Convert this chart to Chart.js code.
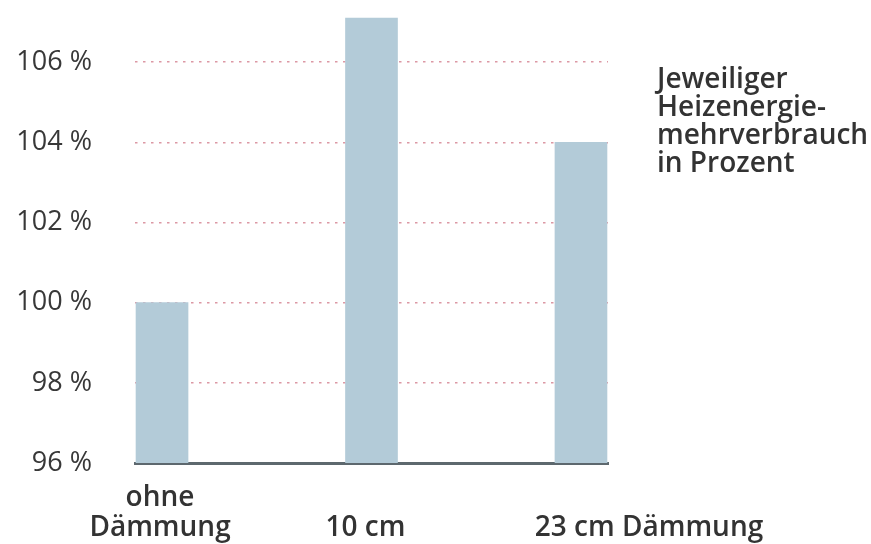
<!DOCTYPE html>
<html>
<head>
<meta charset="utf-8">
<script src="https://cdn.jsdelivr.net/npm/chart.js@4"></script>
<style>
  html, body { margin: 0; padding: 0; background: #fff; }
  #wrap { width: 871px; height: 544px; }
</style>
</head>
<body>
<div id="wrap"><canvas id="chart"></canvas></div>
<script>
// Data
const categories = [["ohne", "Dämmung"], ["10 cm"], ["23 cm Dämmung"]];
const values = [100, 107.1, 104];
const yTicks = [96, 98, 100, 102, 104, 106];
const noteLines = ["Jeweiliger", "Heizenergie-", "mehrverbrauch", "in Prozent"];

// label nudges relative to each bar (the labels are not centred in the original)
const labelShift = [-2, -6, 68];

const FONT = "'Open Sans', 'Noto Sans', sans-serif";

// category labels under the axis + note text at the right
const textPlugin = {
    id: "texts",
    afterDraw(chart) {
        const ctx = chart.ctx;
        const x = chart.scales.x;
        const area = chart.chartArea;
        ctx.save();
        ctx.fillStyle = "#333";
        ctx.font = "600 28px " + FONT;
        ctx.textAlign = "center";
        ctx.textBaseline = "alphabetic";
        categories.forEach((lines, i) => {
            const cx = x.getPixelForValue(i) + labelShift[i];
            lines.forEach((t, j) => {
                ctx.fillText(t, cx, area.bottom + 73 - (lines.length - 1 - j) * 30);
            });
        });
        ctx.textAlign = "left";
        noteLines.forEach((t, j) => {
            ctx.fillText(t, area.right + 49, 88 + j * 28);
        });
        ctx.restore();
    },
};

new Chart(document.getElementById("chart"), {
    type: "bar",
    data: {
        datasets: [
            {
                data: values.map((v, i) => ({ x: i, y: v })),
                backgroundColor: "#b3cbd8",
                borderWidth: 0,
                barThickness: 52,
            },
        ],
    },
    options: {
        responsive: true,
        maintainAspectRatio: false,
        animation: false,
        layout: { padding: { top: 14, right: 263, bottom: 81, left: 0 } },
        plugins: { legend: { display: false }, tooltip: { enabled: false } },
        scales: {
            x: {
                type: "linear",
                min: -0.129,
                max: 2.129,
                offset: false,
                ticks: { display: false },
                grid: { display: false, drawTicks: false, offset: false },
                border: { display: true, color: "#5d686e", width: 3 },
            },
            y: {
                min: 96,
                max: 107.2,
                grace: 0,
                afterBuildTicks: (s) => { s.ticks = yTicks.map((v) => ({ value: v })); },
                afterFit: (s) => {
                    s.width = 135;
                    s.paddingTop = 0;
                    s.paddingBottom = 0;
                },
                ticks: {
                    padding: 43,
                    stepSize: 2,
                    includeBounds: false,
                    color: "#383838",
                    font: { family: FONT, size: 27 },
                    callback: (v) => v + " %",
                },
                grid: {
                    drawTicks: false,
                    lineWidth: 1.5,
                    color: (c) => (c.tick && c.tick.value === 96 ? "rgba(0,0,0,0)" : "#dc98a4"),
                },
                border: { display: false, dash: [2.5, 5.5] },
            },
        },
    },
    plugins: [textPlugin],
});
</script>
</body>
</html>
